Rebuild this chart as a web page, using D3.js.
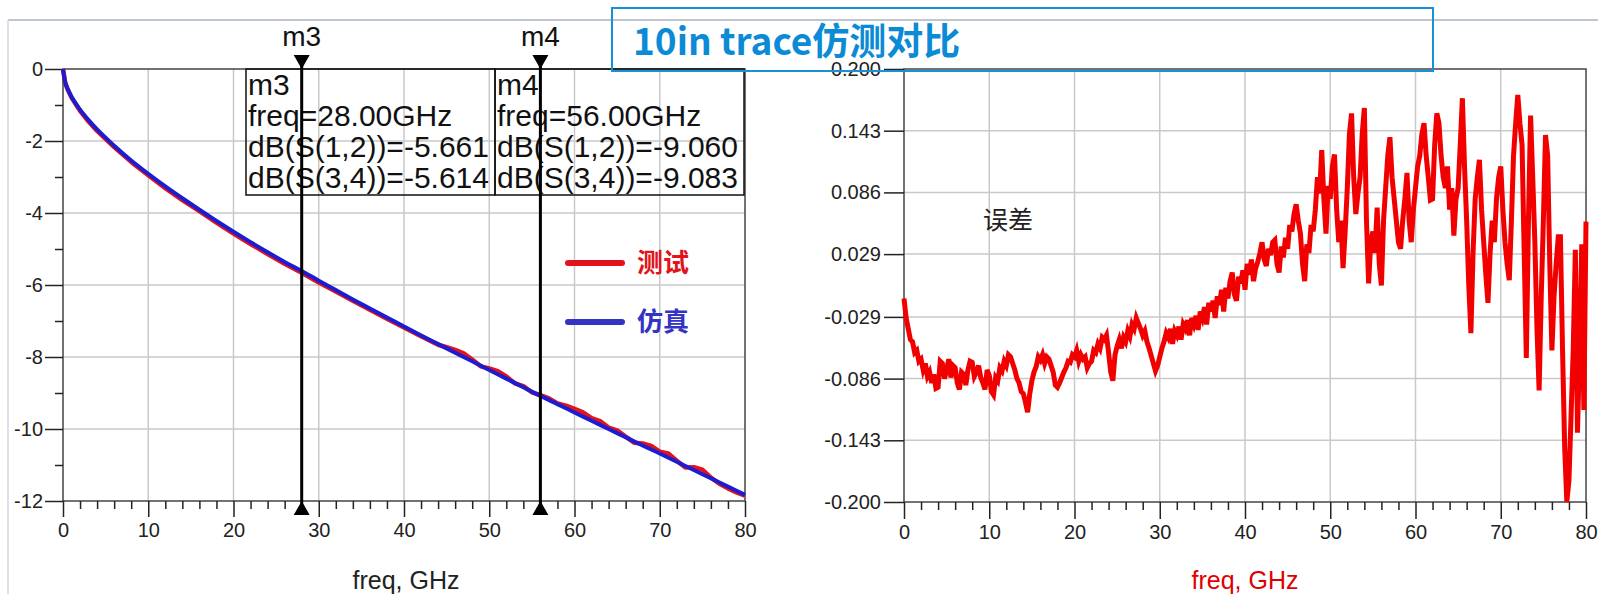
<!DOCTYPE html>
<html>
<head>
<meta charset="utf-8">
<script src="https://cdn.jsdelivr.net/npm/d3@7"></script>
<style>
  body { margin: 0; background: #fff; }
  svg text { font-family: "Liberation Sans", Arial, sans-serif; }
</style>
</head>
<body>
<div id="chart"></div>
<script>
// ---- data: dB(S) of the 10in trace, simulated vs measured ----
const freqS = [0, 0.25, 0.5, 1, 2, 3, 4, 6, 8, 10, 12, 14, 16, 18, 20, 22, 24, 26, 28, 30,
  32, 34, 36, 38, 40, 42, 44, 46, 48, 50, 52, 54, 56, 58, 60, 62, 64, 66, 68, 70, 72, 74, 76, 78, 80];
const simDb = [0, -0.37, -0.53, -0.77, -1.13, -1.42, -1.68, -2.13, -2.54, -2.91, -3.26, -3.59, -3.91, -4.22, -4.52,
  -4.81, -5.09, -5.36, -5.61, -5.88, -6.14, -6.40, -6.65, -6.90, -7.15, -7.40, -7.64, -7.88, -8.12, -8.36,
  -8.60, -8.84, -9.08, -9.31, -9.54, -9.77, -10.00, -10.23, -10.46, -10.68, -10.91, -11.14, -11.37, -11.60, -11.83];

const freqT = [0, 0.25, 0.5, 1, 2, 3, 4, 6, 8, 10, 12, 14, 16, 18, 20, 22, 24, 26, 28, 30,
  32, 34, 36, 38, 40, 42, 44, 45, 46, 47, 48, 49, 50, 51, 52, 53, 54, 55, 56, 57, 58, 59, 60,
  61, 62, 63, 64, 65, 66, 67, 68, 69, 70, 71, 72, 73, 74, 75, 76, 77, 78, 79, 80];
const testDb = [0, -0.36, -0.54, -0.79, -1.16, -1.46, -1.72, -2.17, -2.58, -2.95, -3.31, -3.64, -3.95, -4.27, -4.57,
  -4.86, -5.14, -5.41, -5.66, -5.93, -6.18, -6.44, -6.69, -6.94, -7.18, -7.42, -7.66, -7.73, -7.80, -7.90,
  -8.07, -8.26, -8.32, -8.39, -8.54, -8.73, -8.81, -8.98, -9.06, -9.15, -9.29, -9.35, -9.44,
  -9.54, -9.70, -9.78, -9.96, -10.04, -10.21, -10.38, -10.40, -10.47, -10.63, -10.68, -10.88, -11.07, -11.06,
  -11.13, -11.35, -11.52, -11.65, -11.76, -11.85];

// error trace (right chart), one value every errStep GHz from 0 to 80 (8 values per row = 2 GHz)
const errStep = 0.25;
const errVals = [
  -0.012, -0.030, -0.040, -0.050, -0.052, -0.062, -0.060, -0.070,
  -0.068, -0.078, -0.072, -0.084, -0.080, -0.090, -0.082, -0.095,
  -0.094, -0.070, -0.072, -0.086, -0.078, -0.068, -0.085, -0.074,
  -0.076, -0.090, -0.096, -0.080, -0.082, -0.092, -0.078, -0.070,
  -0.071, -0.084, -0.080, -0.074, -0.085, -0.090, -0.096, -0.078,
  -0.083, -0.098, -0.101, -0.085, -0.088, -0.076, -0.079, -0.070,
  -0.074, -0.064, -0.066, -0.072, -0.078, -0.086, -0.090, -0.098,
  -0.100, -0.108, -0.117, -0.100, -0.088, -0.080, -0.075, -0.066,
  -0.069, -0.064, -0.072, -0.066, -0.068, -0.074, -0.080, -0.092,
  -0.094, -0.090, -0.085, -0.080, -0.076, -0.070, -0.071, -0.064,
  -0.066, -0.060, -0.070, -0.064, -0.068, -0.066, -0.076, -0.072,
  -0.070, -0.060, -0.062, -0.054, -0.058, -0.048, -0.050, -0.046,
  -0.062, -0.080, -0.088, -0.064, -0.056, -0.050, -0.058, -0.048,
  -0.052, -0.042, -0.047, -0.036, -0.040, -0.030, -0.035, -0.040,
  -0.046, -0.042, -0.052, -0.058, -0.065, -0.072, -0.079, -0.074,
  -0.066, -0.058, -0.052, -0.044, -0.048, -0.040, -0.054, -0.042,
  -0.046, -0.038, -0.050, -0.036, -0.040, -0.032, -0.046, -0.030,
  -0.036, -0.028, -0.041, -0.024, -0.030, -0.020, -0.036, -0.016,
  -0.024, -0.014, -0.030, -0.010, -0.018, -0.004, -0.024, -0.002,
  -0.012, 0.004, 0.012, -0.008, -0.014, 0.008, 0.002, 0.014,
  -0.004, 0.020, 0.010, 0.024, 0.004, 0.016, 0.022, 0.030,
  0.040, 0.024, 0.018, 0.034, 0.028, 0.040, 0.042, 0.020,
  0.012, 0.036, 0.026, 0.044, 0.034, 0.056, 0.050, 0.066,
  0.075, 0.060, 0.048, 0.020, 0.004, 0.038, 0.030, 0.056,
  0.050, 0.070, 0.100, 0.085, 0.125, 0.080, 0.048, 0.092,
  0.080, 0.110, 0.121, 0.070, 0.040, 0.060, 0.016, 0.050,
  0.090, 0.140, 0.159, 0.100, 0.066, 0.085, 0.100, 0.140,
  0.164, 0.060, 0.002, 0.040, 0.050, 0.030, 0.072, 0.020,
  0.000, 0.060, 0.090, 0.120, 0.137, 0.100, 0.080, 0.060,
  0.040, 0.034, 0.060, 0.080, 0.104, 0.060, 0.040, 0.070,
  0.090, 0.110, 0.120, 0.140, 0.150, 0.120, 0.100, 0.079,
  0.080, 0.130, 0.159, 0.150, 0.120, 0.100, 0.090, 0.110,
  0.070, 0.090, 0.046, 0.080, 0.090, 0.130, 0.173, 0.110,
  0.060, 0.000, -0.044, 0.030, 0.080, 0.100, 0.116, 0.070,
  0.040, 0.010, -0.016, 0.030, 0.060, 0.040, 0.080, 0.100,
  0.110, 0.070, 0.040, 0.020, 0.005, 0.060, 0.120, 0.150,
  0.176, 0.150, 0.130, 0.030, -0.067, 0.060, 0.157, 0.100,
  0.040, -0.040, -0.097, -0.010, 0.060, 0.139, 0.120, 0.020,
  -0.060, -0.010, 0.020, 0.045, 0.045, -0.060, -0.150, -0.200,
  -0.180, -0.120, -0.060, 0.033, -0.136, -0.060, 0.038, -0.115,
  0.059];

const xTicks = [0, 10, 20, 30, 40, 50, 60, 70, 80];
const xMinor = [2, 4, 6, 8, 12, 14, 16, 18, 22, 24, 26, 28, 32, 34, 36, 38, 42, 44, 46, 48,
  52, 54, 56, 58, 62, 64, 66, 68, 72, 74, 76, 78];
const yTicksL = [0, -2, -4, -6, -8, -10, -12];
const yMinorL = [-1, -3, -5, -7, -9, -11];
const yTicksR = [0.200, 0.143, 0.086, 0.029, -0.029, -0.086, -0.143, -0.200];

const markerNames = ["m3", "m4"];
const markerFreqs = [28, 56];
const markerTexts = [
  ["m3", "freq=28.00GHz", "dB(S(1,2))=-5.661", "dB(S(3,4))=-5.614"],
  ["m4", "freq=56.00GHz", "dB(S(1,2))=-9.060", "dB(S(3,4))=-9.083"]
];
const legendNames = ["测试", "仿真"];
const legendColors = ["#e3131b", "#3434c4"];

const W = 1598, H = 594;
const svg = d3.select("#chart").append("svg")
  .attr("width", W).attr("height", H);

// window frame remnants
svg.append("line").attr("x1", 8).attr("x2", W).attr("y1", 20).attr("y2", 20)
  .attr("stroke", "#a9b3c0").attr("stroke-width", 1.5);
svg.append("line").attr("x1", 8).attr("x2", 8).attr("y1", 20).attr("y2", H)
  .attr("stroke", "#d3d9e0").attr("stroke-width", 1.5);

function styleAxis(g, size) {
  g.select(".domain").remove();
  g.selectAll(".tick line").attr("stroke", "#222").attr("stroke-width", 1.5);
  g.selectAll(".tick text").attr("fill", "#222").style("font-size", size + "px");
}

// ================= left chart =================
const xL = d3.scaleLinear().domain([0, 80]).range([63, 745]);
const yL = d3.scaleLinear().domain([-12, 0]).range([501, 69]);

const left = svg.append("g");
left.selectAll(".vg").data(xTicks.slice(1, -1)).enter().append("line")
  .attr("x1", d => xL(d)).attr("x2", d => xL(d)).attr("y1", yL(0)).attr("y2", yL(-12))
  .attr("stroke", "#c9c9c9").attr("stroke-width", 1.5);
left.selectAll(".hg").data(yTicksL.slice(1, -1)).enter().append("line")
  .attr("x1", xL(0)).attr("x2", xL(80)).attr("y1", d => yL(d)).attr("y2", d => yL(d))
  .attr("stroke", "#c9c9c9").attr("stroke-width", 1.5);

left.append("rect").attr("x", xL(0)).attr("y", yL(0))
  .attr("width", xL(80) - xL(0)).attr("height", yL(-12) - yL(0))
  .attr("fill", "none").attr("stroke", "#444").attr("stroke-width", 1.5);

left.append("g").attr("transform", `translate(0,${yL(-12)})`)
  .call(d3.axisBottom(xL).tickValues(xTicks).tickSize(16).tickPadding(6).tickFormat(d => String(d)))
  .call(g => styleAxis(g, 20));
left.append("g").attr("transform", `translate(0,${yL(-12)})`)
  .call(d3.axisBottom(xL).tickValues(xMinor).tickSize(8).tickFormat(""))
  .call(g => styleAxis(g, 20));
left.append("g").attr("transform", `translate(${xL(0)},0)`)
  .call(d3.axisLeft(yL).tickValues(yTicksL).tickSize(18).tickPadding(2).tickFormat(d => String(d)))
  .call(g => styleAxis(g, 20));
left.append("g").attr("transform", `translate(${xL(0)},0)`)
  .call(d3.axisLeft(yL).tickValues(yMinorL).tickSize(8).tickFormat(""))
  .call(g => styleAxis(g, 20));

const lineT = d3.line().x((d, i) => xL(freqT[i])).y(d => yL(d));
const lineS = d3.line().x((d, i) => xL(freqS[i])).y(d => yL(d)).curve(d3.curveMonotoneX);
left.append("path").datum(testDb).attr("d", lineT)
  .attr("fill", "none").attr("stroke", "#e3131b").attr("stroke-width", 4.5).attr("stroke-linejoin", "round");
left.append("path").datum(simDb).attr("d", lineS)
  .attr("fill", "none").attr("stroke", "#1c1cd2").attr("stroke-width", 4).attr("stroke-linejoin", "round");

// legend
legendNames.forEach((name, i) => {
  const y = 263 + i * 59;
  left.append("line").attr("x1", 568).attr("x2", 622).attr("y1", y).attr("y2", y)
    .attr("stroke", legendColors[i]).attr("stroke-width", 6).attr("stroke-linecap", "round");
  left.append("text").attr("x", 637).attr("y", y + 9).text(name)
    .attr("fill", legendColors[i]).style("font-size", "26px").style("font-weight", "bold")
    .style("font-family", "'Noto Sans CJK SC', sans-serif");
});

// marker readout boxes
const boxLeft = [246, 495], boxW = 249, boxTop = yL(0), boxH = 126;
markerTexts.forEach((lines, k) => {
  left.append("rect").attr("x", boxLeft[k]).attr("y", boxTop).attr("width", boxW).attr("height", boxH)
    .attr("fill", "none").attr("stroke", "#111").attr("stroke-width", 1.5);
  lines.forEach((t, j) => {
    left.append("text").attr("x", boxLeft[k] + 2).attr("y", boxTop + 26 + j * 31)
      .text(t).attr("fill", "#111").style("font-size", "30px");
  });
});

// markers
markerFreqs.forEach((f, k) => {
  const x = xL(f);
  left.append("line").attr("x1", x).attr("x2", x).attr("y1", 55).attr("y2", 515)
    .attr("stroke", "#000").attr("stroke-width", 3);
  left.append("path").attr("d", `M${x - 8},55L${x + 8},55L${x},${yL(0)}Z`).attr("fill", "#000");
  left.append("path").attr("d", `M${x},${yL(-12)}L${x - 8},515L${x + 8},515Z`).attr("fill", "#000");
  left.append("text").attr("x", x).attr("y", 46).attr("text-anchor", "middle")
    .text(markerNames[k]).attr("fill", "#111").style("font-size", "28px");
});

left.append("text").attr("x", 406).attr("y", 589).attr("text-anchor", "middle")
  .text("freq, GHz").attr("fill", "#222").style("font-size", "25px");

// ================= right chart =================
const xR = d3.scaleLinear().domain([0, 80]).range([904, 1586]);
const yR = d3.scaleLinear().domain([-0.2, 0.2]).range([502, 69]);

const right = svg.append("g");
right.selectAll(".vg").data(xTicks.slice(1, -1)).enter().append("line")
  .attr("x1", d => xR(d)).attr("x2", d => xR(d)).attr("y1", yR(0.2)).attr("y2", yR(-0.2))
  .attr("stroke", "#c9c9c9").attr("stroke-width", 1.5);
right.selectAll(".hg").data(yTicksR.slice(1, -1)).enter().append("line")
  .attr("x1", xR(0)).attr("x2", xR(80)).attr("y1", d => yR(d)).attr("y2", d => yR(d))
  .attr("stroke", "#c9c9c9").attr("stroke-width", 1.5);

right.append("rect").attr("x", xR(0)).attr("y", yR(0.2))
  .attr("width", xR(80) - xR(0)).attr("height", yR(-0.2) - yR(0.2))
  .attr("fill", "none").attr("stroke", "#444").attr("stroke-width", 1.5);

right.append("g").attr("transform", `translate(0,${yR(-0.2)})`)
  .call(d3.axisBottom(xR).tickValues(xTicks).tickSize(17).tickPadding(6).tickFormat(d => String(d)))
  .call(g => styleAxis(g, 20));
right.append("g").attr("transform", `translate(0,${yR(-0.2)})`)
  .call(d3.axisBottom(xR).tickValues(xMinor).tickSize(8).tickFormat(""))
  .call(g => styleAxis(g, 20));
right.append("g").attr("transform", `translate(${xR(0)},0)`)
  .call(d3.axisLeft(yR).tickValues(yTicksR).tickSize(20).tickPadding(3).tickFormat(d => d.toFixed(3)))
  .call(g => styleAxis(g, 20));

const lineE = d3.line().x((d, i) => xR(i * errStep)).y(d => yR(d));
right.append("path").datum(errVals).attr("d", lineE)
  .attr("fill", "none").attr("stroke", "#f20000").attr("stroke-width", 5).attr("stroke-linejoin", "miter");

right.append("text").attr("x", 1008).attr("y", 229).attr("text-anchor", "middle")
  .text("误差").attr("fill", "#222").style("font-size", "25px")
  .style("font-family", "'Noto Sans CJK SC', sans-serif");

right.append("text").attr("x", 1245).attr("y", 589).attr("text-anchor", "middle")
  .text("freq, GHz").attr("fill", "#e00000").style("font-size", "25px");

// ================= title box =================
svg.append("rect").attr("x", 612).attr("y", 8).attr("width", 821).attr("height", 63)
  .attr("fill", "none").attr("stroke", "#1a90d8").attr("stroke-width", 2);
svg.append("text").attr("x", 633).attr("y", 55).text("10in trace仿测对比")
  .attr("fill", "#0b8bd5").style("font-size", "37px").style("font-weight", "bold")
  .style("font-family", "'Noto Sans CJK SC', sans-serif");
</script>
</body>
</html>
